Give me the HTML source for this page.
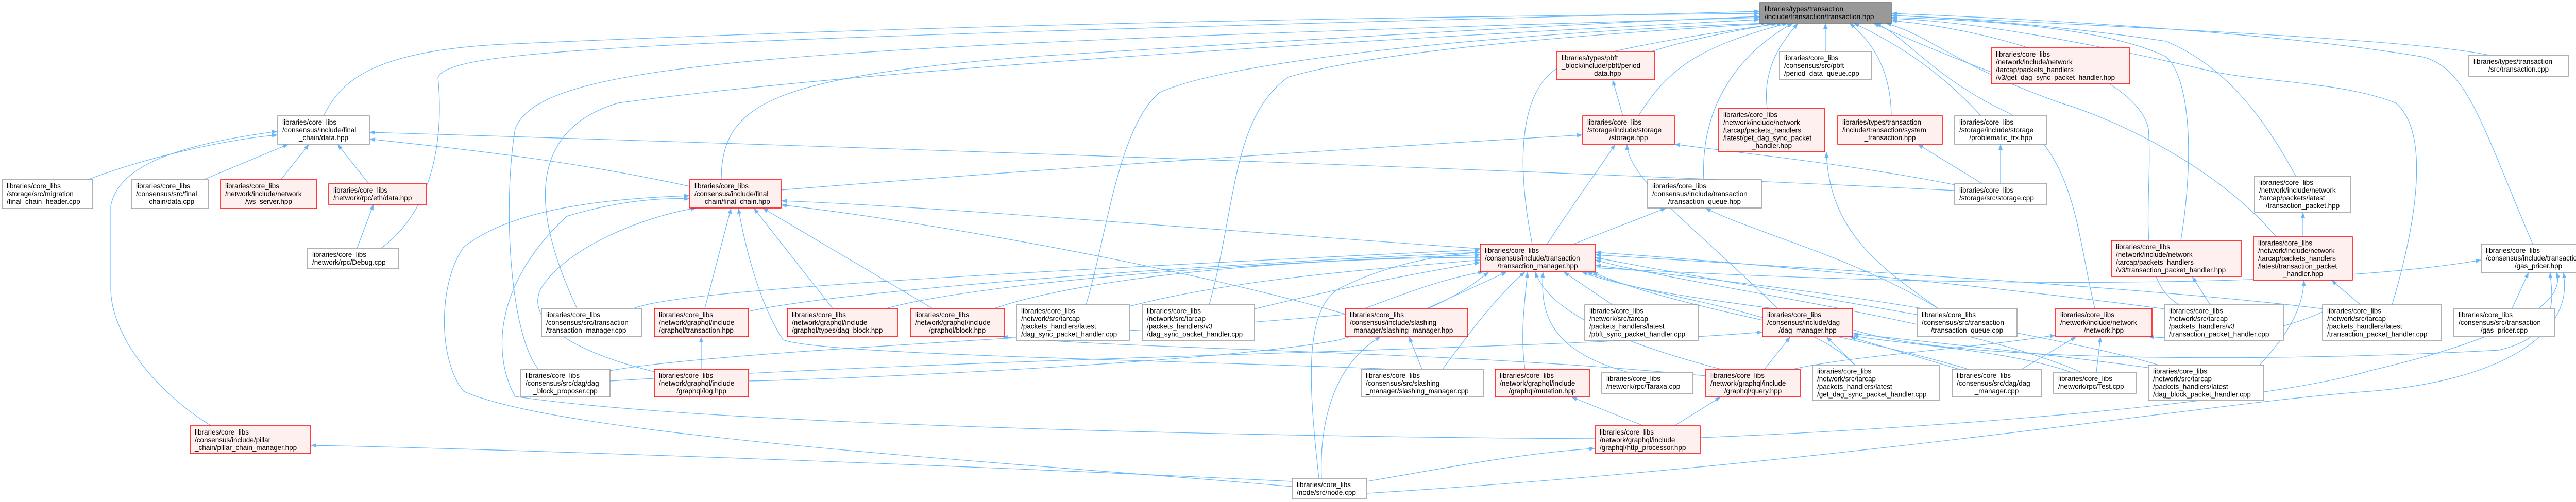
<!DOCTYPE html>
<html><head><meta charset="utf-8"><style>
html,body{margin:0;padding:0;background:#fff;}
svg{display:block;}
text{font-family:"Liberation Sans",sans-serif;font-size:13.5px;fill:#000;}
.r{fill:#fff0f0;stroke:#ff0000;stroke-width:1.5;}
.w{fill:#fff;stroke:#999;stroke-width:1.5;}
.g{fill:#999;stroke:#666;stroke-width:1.5;}
.e path{fill:none;stroke:#63b8ff;stroke-width:1.2;}
</style></head><body>
<svg width="5044" height="975" viewBox="0 0 5044 975" xmlns="http://www.w3.org/2000/svg">
<defs><marker id="a" markerWidth="11" markerHeight="8" refX="11" refY="4" orient="auto" markerUnits="userSpaceOnUse"><path d="M0,0 L11,4 L0,8 z" fill="#63b8ff"/></marker></defs>
<g class="e" marker-end="url(#a)">
<path marker-end="url(#a)" d="M628,225 C660,160 720,95 1000,85 C2000,40 3000,30 3416,26"/>
<path marker-end="url(#a)" d="M1400,349 C1400,200 1500,150 2000,110 C2800,60 3200,40 3416,32"/>
<path marker-end="url(#a)" d="M1045,717 C990,650 975,400 1000,250 C1050,120 1500,90 3416,34"/>
<path marker-end="url(#a)" d="M1120,599 C1050,450 1000,260 1200,200 C1800,120 3000,60 3416,38"/>
<path marker-end="url(#a)" d="M740,482 C850,400 860,250 850,150 C880,95 1200,80 3416,22"/>
<path marker-end="url(#a)" d="M2108,592 C2150,450 2170,250 2250,180 C2400,110 3000,60 3430,45"/>
<path marker-end="url(#a)" d="M2347,592 C2400,400 2390,230 2500,150 C2700,90 3200,60 3440,45"/>
<path marker-end="url(#a)" d="M3205,100 C3300,70 3400,55 3450,45"/>
<path marker-end="url(#a)" d="M3180,225 C3240,130 3300,90 3470,45"/>
<path marker-end="url(#a)" d="M2974,474 C2940,300 2950,150 3050,120 C3200,80 3350,60 3460,45"/>
<path marker-end="url(#a)" d="M3307,349 C3300,200 3380,100 3480,45"/>
<path marker-end="url(#a)" d="M3430,211 C3420,130 3460,80 3490,45"/>
<path marker-end="url(#a)" d="M3543,100 L3543,45"/>
<path marker-end="url(#a)" d="M3671,225 C3670,120 3620,70 3590,45"/>
<path marker-end="url(#a)" d="M3845,225 C3750,120 3650,70 3598,45"/>
<path marker-end="url(#a)" d="M3865,140 C3760,100 3690,70 3636,45"/>
<path marker-end="url(#a)" d="M4066,599 C4030,450 4030,300 3900,220 C3750,150 3700,70 3640,45"/>
<path marker-end="url(#a)" d="M4230,592 C4140,540 4180,380 4170,250 C4150,150 3900,60 3671,40"/>
<path marker-end="url(#a)" d="M4418,460 C4300,320 4100,230 4000,200 C3800,130 3750,70 3660,45"/>
<path marker-end="url(#a)" d="M4233,467 C4260,300 4250,150 4204,110 C4100,60 3900,40 3671,34"/>
<path marker-end="url(#a)" d="M4456,342 C4380,200 4300,120 4204,80 C4000,50 3800,35 3671,30"/>
<path marker-end="url(#a)" d="M4643,592 C4700,400 4710,250 4650,200 C4550,160 4400,160 4300,140 C4000,70 3800,40 3671,36"/>
<path marker-end="url(#a)" d="M4916,474 C4820,250 4790,130 4700,110 C4400,60 3900,35 3671,26"/>
<path marker-end="url(#a)" d="M4831,107 C4700,80 4300,60 3671,30"/>
<path marker-end="url(#a)" d="M1230,599 C1300,570 1700,540 2873,485"/>
<path marker-end="url(#a)" d="M1453,605 C1600,570 2200,520 2873,490"/>
<path marker-end="url(#a)" d="M1720,599 C1900,550 2400,510 2873,495"/>
<path marker-end="url(#a)" d="M1930,599 C2100,540 2500,500 2873,500"/>
<path marker-end="url(#a)" d="M2192,595 C2400,540 2700,520 2873,505"/>
<path marker-end="url(#a)" d="M2435,600 C2600,560 2750,530 2873,510"/>
<path marker-end="url(#a)" d="M1184,720 C1400,680 2200,650 2620,610 C2700,580 2800,540 2880,528"/>
<path marker-end="url(#a)" d="M1453,740 C1700,735 2400,700 2600,660 C2800,600 2850,560 2890,528"/>
<path marker-end="url(#a)" d="M2770,599 L2925,528"/>
<path marker-end="url(#a)" d="M2800,717 C2850,650 2900,580 2960,528"/>
<path marker-end="url(#a)" d="M2960,717 C2950,650 2960,580 2965,528"/>
<path marker-end="url(#a)" d="M3340,717 C3200,680 3010,620 2980,528"/>
<path marker-end="url(#a)" d="M3160,723 C3000,680 2990,600 2995,528"/>
<path marker-end="url(#a)" d="M3440,599 C3300,580 3150,560 3070,528"/>
<path marker-end="url(#a)" d="M3600,709 C3500,600 3200,580 3080,528"/>
<path marker-end="url(#a)" d="M3820,717 C3600,650 3250,600 3090,528"/>
<path marker-end="url(#a)" d="M3130,592 L3035,528"/>
<path marker-end="url(#a)" d="M3730,599 C3500,560 3200,530 3096,515"/>
<path marker-end="url(#a)" d="M4040,723 C3800,620 3300,560 3096,505"/>
<path marker-end="url(#a)" d="M4190,709 C4000,650 3400,560 3096,500"/>
<path marker-end="url(#a)" d="M4510,600 C4200,560 3500,520 3096,495"/>
<path marker-end="url(#a)" d="M4201,600 C3900,560 3400,510 3096,490"/>
<path marker-end="url(#a)" d="M2560,929 C2540,750 2530,600 2600,560 C2700,510 2800,495 2873,490"/>
<path marker-end="url(#a)" d="M2508,945 C2000,900 1100,850 900,760 C850,700 850,550 900,480 C1000,400 1200,385 1339,380"/>
<path marker-end="url(#a)" d="M3096,852 C2600,850 1400,830 1000,770 C960,700 950,560 1100,420 C1200,390 1280,384 1339,386"/>
<path marker-end="url(#a)" d="M1270,722 C1100,680 1020,620 1050,560 C1100,480 1250,420 1352,404"/>
<path marker-end="url(#a)" d="M1368,599 L1419,404"/>
<path marker-end="url(#a)" d="M1616,599 L1463,404"/>
<path marker-end="url(#a)" d="M1810,599 L1480,404"/>
<path marker-end="url(#a)" d="M2700,717 C2300,700 1600,690 1520,660 C1480,600 1450,500 1433,404"/>
<path marker-end="url(#a)" d="M2873,483 C2400,450 1800,400 1516,390"/>
<path marker-end="url(#a)" d="M2611,610 C2300,520 1800,430 1516,398"/>
<path marker-end="url(#a)" d="M170,349 C300,300 450,270 539,262"/>
<path marker-end="url(#a)" d="M395,349 L560,280"/>
<path marker-end="url(#a)" d="M545,349 L600,280"/>
<path marker-end="url(#a)" d="M716,357 L655,280"/>
<path marker-end="url(#a)" d="M410,827 C300,760 215,650 215,560 L215,400 C230,320 350,280 539,255"/>
<path marker-end="url(#a)" d="M1339,362 C1100,310 900,290 717,270"/>
<path marker-end="url(#a)" d="M3794,370 C3000,330 1500,280 717,257"/>
<path marker-end="url(#a)" d="M693,482 L725,397"/>
<path marker-end="url(#a)" d="M2508,935 C1800,900 900,870 603,865"/>
<path marker-end="url(#a)" d="M1516,369 C2000,330 2600,290 3072,262"/>
<path marker-end="url(#a)" d="M3003,474 C3050,400 3110,320 3135,280"/>
<path marker-end="url(#a)" d="M3450,599 C3300,450 3160,350 3158,280"/>
<path marker-end="url(#a)" d="M3800,360 C3600,320 3400,300 3250,280"/>
<path marker-end="url(#a)" d="M3150,225 L3130,155"/>
<path marker-end="url(#a)" d="M3054,474 L3234,404"/>
<path marker-end="url(#a)" d="M3762,599 C3600,500 3400,450 3310,404"/>
<path marker-end="url(#a)" d="M3762,599 C3650,520 3550,450 3545,295"/>
<path marker-end="url(#a)" d="M3848,357 L3722,280"/>
<path marker-end="url(#a)" d="M3883,357 L3883,280"/>
<path marker-end="url(#a)" d="M1361,717 L1361,654"/>
<path marker-end="url(#a)" d="M3311,730 C2800,680 2200,680 1945,654"/>
<path marker-end="url(#a)" d="M2760,717 L2735,654"/>
<path marker-end="url(#a)" d="M2565,929 C2560,800 2600,700 2680,654"/>
<path marker-end="url(#a)" d="M3190,827 L3050,771"/>
<path marker-end="url(#a)" d="M3250,827 L3340,771"/>
<path marker-end="url(#a)" d="M2653,935 C2800,910 2950,880 3096,871"/>
<path marker-end="url(#a)" d="M3425,717 L3475,654"/>
<path marker-end="url(#a)" d="M3601,709 L3545,654"/>
<path marker-end="url(#a)" d="M3802,717 L3590,654"/>
<path marker-end="url(#a)" d="M4020,723 C3900,680 3700,670 3596,652"/>
<path marker-end="url(#a)" d="M4175,715 C4000,690 3700,660 3596,648"/>
<path marker-end="url(#a)" d="M3480,717 C3600,690 3800,680 3990,651"/>
<path marker-end="url(#a)" d="M3924,717 L4030,654"/>
<path marker-end="url(#a)" d="M4069,723 L4077,654"/>
<path marker-end="url(#a)" d="M4520,600 C4400,660 4250,660 4170,654"/>
<path marker-end="url(#a)" d="M4290,592 L4255,537"/>
<path marker-end="url(#a)" d="M4386,709 C4440,650 4470,600 4472,544"/>
<path marker-end="url(#a)" d="M4582,592 L4525,544"/>
<path marker-end="url(#a)" d="M4470,460 L4470,412"/>
<path marker-end="url(#a)" d="M4876,599 L4908,529"/>
<path marker-end="url(#a)" d="M2653,958 C3600,900 4300,780 4600,760 C4850,740 5000,650 4975,529"/>
<path marker-end="url(#a)" d="M3300,850 C3800,830 4400,780 4600,720 C4900,650 4980,580 4962,529"/>
<path marker-end="url(#a)" d="M3596,640 C3800,710 4500,700 4850,680 C4980,650 4950,560 4950,529"/>
<path marker-end="url(#a)" d="M3096,520 C3800,560 4500,560 4816,505"/>
<path marker-end="url(#a)" d="M1184,740 C2000,690 3000,680 3421,645"/>
</g>

<rect class="g" x="3416" y="5" width="255" height="40"/>
<text><tspan x="3425" y="22">libraries/types/transaction</tspan><tspan x="3425" y="37">/include/transaction/transaction.hpp</tspan></text>

<rect class="w" x="539" y="225" width="178" height="55"/>
<text><tspan x="548" y="242">libraries/core_libs</tspan><tspan x="548" y="257">/consensus/include/final</tspan><tspan x="628" y="272" text-anchor="middle">_chain/data.hpp</tspan></text>

<rect class="w" x="4" y="349" width="176" height="56"/>
<text><tspan x="13" y="366">libraries/core_libs</tspan><tspan x="13" y="381">/storage/src/migration</tspan><tspan x="13" y="396">/final_chain_header.cpp</tspan></text>

<rect class="w" x="255" y="349" width="149" height="56"/>
<text><tspan x="264" y="366">libraries/core_libs</tspan><tspan x="264" y="381">/consensus/src/final</tspan><tspan x="329.5" y="396" text-anchor="middle">_chain/data.cpp</tspan></text>

<rect class="r" x="428" y="349" width="187" height="56"/>
<text><tspan x="437" y="366">libraries/core_libs</tspan><tspan x="437" y="381">/network/include/network</tspan><tspan x="521.5" y="396" text-anchor="middle">/ws_server.hpp</tspan></text>

<rect class="r" x="638" y="357" width="190" height="40"/>
<text><tspan x="647" y="374">libraries/core_libs</tspan><tspan x="647" y="389">/network/rpc/eth/data.hpp</tspan></text>

<rect class="w" x="597" y="482" width="177" height="40"/>
<text><tspan x="606" y="499">libraries/core_libs</tspan><tspan x="606" y="514">/network/rpc/Debug.cpp</tspan></text>

<rect class="r" x="369" y="827" width="234" height="54"/>
<text><tspan x="378" y="844">libraries/core_libs</tspan><tspan x="378" y="859">/consensus/include/pillar</tspan><tspan x="378" y="874">_chain/pillar_chain_manager.hpp</tspan></text>

<rect class="r" x="1339" y="349" width="177" height="55"/>
<text><tspan x="1348" y="366">libraries/core_libs</tspan><tspan x="1348" y="381">/consensus/include/final</tspan><tspan x="1427.5" y="396" text-anchor="middle">_chain/final_chain.hpp</tspan></text>

<rect class="w" x="1051" y="599" width="194" height="55"/>
<text><tspan x="1060" y="616">libraries/core_libs</tspan><tspan x="1060" y="631">/consensus/src/transaction</tspan><tspan x="1060" y="646">/transaction_manager.cpp</tspan></text>

<rect class="r" x="1270" y="599" width="183" height="55"/>
<text><tspan x="1279" y="616">libraries/core_libs</tspan><tspan x="1279" y="631">/network/graphql/include</tspan><tspan x="1279" y="646">/graphql/transaction.hpp</tspan></text>

<rect class="r" x="1528" y="599" width="214" height="55"/>
<text><tspan x="1537" y="616">libraries/core_libs</tspan><tspan x="1537" y="631">/network/graphql/include</tspan><tspan x="1537" y="646">/graphql/types/dag_block.hpp</tspan></text>

<rect class="r" x="1767" y="599" width="182" height="55"/>
<text><tspan x="1776" y="616">libraries/core_libs</tspan><tspan x="1776" y="631">/network/graphql/include</tspan><tspan x="1858" y="646" text-anchor="middle">/graphql/block.hpp</tspan></text>

<rect class="w" x="1011" y="717" width="173" height="54"/>
<text><tspan x="1020" y="734">libraries/core_libs</tspan><tspan x="1020" y="749">/consensus/src/dag/dag</tspan><tspan x="1097.5" y="764" text-anchor="middle">_block_proposer.cpp</tspan></text>

<rect class="r" x="1270" y="717" width="183" height="54"/>
<text><tspan x="1279" y="734">libraries/core_libs</tspan><tspan x="1279" y="749">/network/graphql/include</tspan><tspan x="1361.5" y="764" text-anchor="middle">/graphql/log.hpp</tspan></text>

<rect class="w" x="1973" y="592" width="219" height="69"/>
<text><tspan x="1982" y="608.5">libraries/core_libs</tspan><tspan x="1982" y="623.5">/network/src/tarcap</tspan><tspan x="1982" y="638.5">/packets_handlers/latest</tspan><tspan x="1982" y="653.5">/dag_sync_packet_handler.cpp</tspan></text>

<rect class="w" x="2217" y="592" width="218" height="69"/>
<text><tspan x="2226" y="608.5">libraries/core_libs</tspan><tspan x="2226" y="623.5">/network/src/tarcap</tspan><tspan x="2226" y="638.5">/packets_handlers/v3</tspan><tspan x="2226" y="653.5">/dag_sync_packet_handler.cpp</tspan></text>

<rect class="w" x="2508" y="929" width="145" height="40"/>
<text><tspan x="2517" y="946">libraries/core_libs</tspan><tspan x="2517" y="961">/node/src/node.cpp</tspan></text>

<rect class="r" x="3022" y="100" width="189" height="55"/>
<text><tspan x="3031" y="117">libraries/types/pbft</tspan><tspan x="3031" y="132">_block/include/pbft/period</tspan><tspan x="3116.5" y="147" text-anchor="middle">_data.hpp</tspan></text>

<rect class="r" x="3072" y="225" width="178" height="55"/>
<text><tspan x="3081" y="242">libraries/core_libs</tspan><tspan x="3081" y="257">/storage/include/storage</tspan><tspan x="3161" y="272" text-anchor="middle">/storage.hpp</tspan></text>

<rect class="w" x="3198" y="349" width="221" height="55"/>
<text><tspan x="3207" y="366">libraries/core_libs</tspan><tspan x="3207" y="381">/consensus/include/transaction</tspan><tspan x="3308.5" y="396" text-anchor="middle">/transaction_queue.hpp</tspan></text>

<rect class="r" x="3336" y="211" width="206" height="84"/>
<text><tspan x="3345" y="227.5">libraries/core_libs</tspan><tspan x="3345" y="242.5">/network/include/network</tspan><tspan x="3345" y="257.5">/tarcap/packets_handlers</tspan><tspan x="3345" y="272.5">/latest/get_dag_sync_packet</tspan><tspan x="3439" y="287.5" text-anchor="middle">_handler.hpp</tspan></text>

<rect class="r" x="2873" y="474" width="223" height="54"/>
<text><tspan x="2882" y="491">libraries/core_libs</tspan><tspan x="2882" y="506">/consensus/include/transaction</tspan><tspan x="2984.5" y="521" text-anchor="middle">/transaction_manager.hpp</tspan></text>

<rect class="r" x="2611" y="599" width="238" height="55"/>
<text><tspan x="2620" y="616">libraries/core_libs</tspan><tspan x="2620" y="631">/consensus/include/slashing</tspan><tspan x="2620" y="646">_manager/slashing_manager.hpp</tspan></text>

<rect class="w" x="3076" y="592" width="220" height="69"/>
<text><tspan x="3085" y="608.5">libraries/core_libs</tspan><tspan x="3085" y="623.5">/network/src/tarcap</tspan><tspan x="3085" y="638.5">/packets_handlers/latest</tspan><tspan x="3085" y="653.5">/pbft_sync_packet_handler.cpp</tspan></text>

<rect class="w" x="2642" y="717" width="237" height="54"/>
<text><tspan x="2651" y="734">libraries/core_libs</tspan><tspan x="2651" y="749">/consensus/src/slashing</tspan><tspan x="2651" y="764">_manager/slashing_manager.cpp</tspan></text>

<rect class="r" x="2902" y="717" width="183" height="54"/>
<text><tspan x="2911" y="734">libraries/core_libs</tspan><tspan x="2911" y="749">/network/graphql/include</tspan><tspan x="2993.5" y="764" text-anchor="middle">/graphql/mutation.hpp</tspan></text>

<rect class="w" x="3109" y="723" width="177" height="41"/>
<text><tspan x="3118" y="740">libraries/core_libs</tspan><tspan x="3118" y="755">/network/rpc/Taraxa.cpp</tspan></text>

<rect class="r" x="3311" y="717" width="183" height="54"/>
<text><tspan x="3320" y="734">libraries/core_libs</tspan><tspan x="3320" y="749">/network/graphql/include</tspan><tspan x="3402.5" y="764" text-anchor="middle">/graphql/query.hpp</tspan></text>

<rect class="r" x="3096" y="827" width="204" height="54"/>
<text><tspan x="3105" y="844">libraries/core_libs</tspan><tspan x="3105" y="859">/network/graphql/include</tspan><tspan x="3105" y="874">/graphql/http_processor.hpp</tspan></text>

<rect class="w" x="3454" y="100" width="178" height="55"/>
<text><tspan x="3463" y="117">libraries/core_libs</tspan><tspan x="3463" y="132">/consensus/src/pbft</tspan><tspan x="3463" y="147">/period_data_queue.cpp</tspan></text>

<rect class="r" x="3865" y="93" width="269" height="70"/>
<text><tspan x="3874" y="110">libraries/core_libs</tspan><tspan x="3874" y="125">/network/include/network</tspan><tspan x="3874" y="140">/tarcap/packets_handlers</tspan><tspan x="3874" y="155">/v3/get_dag_sync_packet_handler.hpp</tspan></text>

<rect class="r" x="3567" y="225" width="203" height="55"/>
<text><tspan x="3576" y="242">libraries/types/transaction</tspan><tspan x="3576" y="257">/include/transaction/system</tspan><tspan x="3668.5" y="272" text-anchor="middle">_transaction.hpp</tspan></text>

<rect class="w" x="3794" y="225" width="179" height="55"/>
<text><tspan x="3803" y="242">libraries/core_libs</tspan><tspan x="3803" y="257">/storage/include/storage</tspan><tspan x="3883.5" y="272" text-anchor="middle">/problematic_trx.hpp</tspan></text>

<rect class="w" x="3794" y="357" width="179" height="40"/>
<text><tspan x="3803" y="374">libraries/core_libs</tspan><tspan x="3803" y="389">/storage/src/storage.cpp</tspan></text>

<rect class="r" x="4098" y="467" width="252" height="70"/>
<text><tspan x="4107" y="484">libraries/core_libs</tspan><tspan x="4107" y="499">/network/include/network</tspan><tspan x="4107" y="514">/tarcap/packets_handlers</tspan><tspan x="4107" y="529">/v3/transaction_packet_handler.hpp</tspan></text>

<rect class="r" x="3421" y="599" width="175" height="55"/>
<text><tspan x="3430" y="616">libraries/core_libs</tspan><tspan x="3430" y="631">/consensus/include/dag</tspan><tspan x="3508.5" y="646" text-anchor="middle">/dag_manager.hpp</tspan></text>

<rect class="w" x="3721" y="599" width="194" height="55"/>
<text><tspan x="3730" y="616">libraries/core_libs</tspan><tspan x="3730" y="631">/consensus/src/transaction</tspan><tspan x="3818" y="646" text-anchor="middle">/transaction_queue.cpp</tspan></text>

<rect class="r" x="3990" y="599" width="187" height="55"/>
<text><tspan x="3999" y="616">libraries/core_libs</tspan><tspan x="3999" y="631">/network/include/network</tspan><tspan x="4083.5" y="646" text-anchor="middle">/network.hpp</tspan></text>

<rect class="w" x="4201" y="592" width="231" height="69"/>
<text><tspan x="4210" y="608.5">libraries/core_libs</tspan><tspan x="4210" y="623.5">/network/src/tarcap</tspan><tspan x="4210" y="638.5">/packets_handlers/v3</tspan><tspan x="4210" y="653.5">/transaction_packet_handler.cpp</tspan></text>

<rect class="w" x="3518" y="709" width="246" height="69"/>
<text><tspan x="3527" y="725.5">libraries/core_libs</tspan><tspan x="3527" y="740.5">/network/src/tarcap</tspan><tspan x="3527" y="755.5">/packets_handlers/latest</tspan><tspan x="3527" y="770.5">/get_dag_sync_packet_handler.cpp</tspan></text>

<rect class="w" x="3789" y="717" width="173" height="54"/>
<text><tspan x="3798" y="734">libraries/core_libs</tspan><tspan x="3798" y="749">/consensus/src/dag/dag</tspan><tspan x="3875.5" y="764" text-anchor="middle">_manager.cpp</tspan></text>

<rect class="w" x="3986" y="723" width="160" height="41"/>
<text><tspan x="3995" y="740">libraries/core_libs</tspan><tspan x="3995" y="755">/network/rpc/Test.cpp</tspan></text>

<rect class="w" x="4170" y="709" width="224" height="69"/>
<text><tspan x="4179" y="725.5">libraries/core_libs</tspan><tspan x="4179" y="740.5">/network/src/tarcap</tspan><tspan x="4179" y="755.5">/packets_handlers/latest</tspan><tspan x="4179" y="770.5">/dag_block_packet_handler.cpp</tspan></text>

<rect class="w" x="4792" y="107" width="193" height="41"/>
<text><tspan x="4801" y="124">libraries/types/transaction</tspan><tspan x="4888.5" y="139" text-anchor="middle">/src/transaction.cpp</tspan></text>

<rect class="w" x="4376" y="342" width="187" height="70"/>
<text><tspan x="4385" y="359">libraries/core_libs</tspan><tspan x="4385" y="374">/network/include/network</tspan><tspan x="4385" y="389">/tarcap/packets/latest</tspan><tspan x="4469.5" y="404" text-anchor="middle">/transaction_packet.hpp</tspan></text>

<rect class="r" x="4374" y="460" width="192" height="84"/>
<text><tspan x="4383" y="476.5">libraries/core_libs</tspan><tspan x="4383" y="491.5">/network/include/network</tspan><tspan x="4383" y="506.5">/tarcap/packets_handlers</tspan><tspan x="4383" y="521.5">/latest/transaction_packet</tspan><tspan x="4470" y="536.5" text-anchor="middle">_handler.hpp</tspan></text>

<rect class="w" x="4816" y="474" width="222" height="55"/>
<text><tspan x="4825" y="491">libraries/core_libs</tspan><tspan x="4825" y="506">/consensus/include/transaction</tspan><tspan x="4927" y="521" text-anchor="middle">/gas_pricer.hpp</tspan></text>

<rect class="w" x="4508" y="592" width="231" height="69"/>
<text><tspan x="4517" y="608.5">libraries/core_libs</tspan><tspan x="4517" y="623.5">/network/src/tarcap</tspan><tspan x="4517" y="638.5">/packets_handlers/latest</tspan><tspan x="4517" y="653.5">/transaction_packet_handler.cpp</tspan></text>

<rect class="w" x="4763" y="599" width="195" height="55"/>
<text><tspan x="4772" y="616">libraries/core_libs</tspan><tspan x="4772" y="631">/consensus/src/transaction</tspan><tspan x="4860.5" y="646" text-anchor="middle">/gas_pricer.cpp</tspan></text>
</svg>
</body></html>
